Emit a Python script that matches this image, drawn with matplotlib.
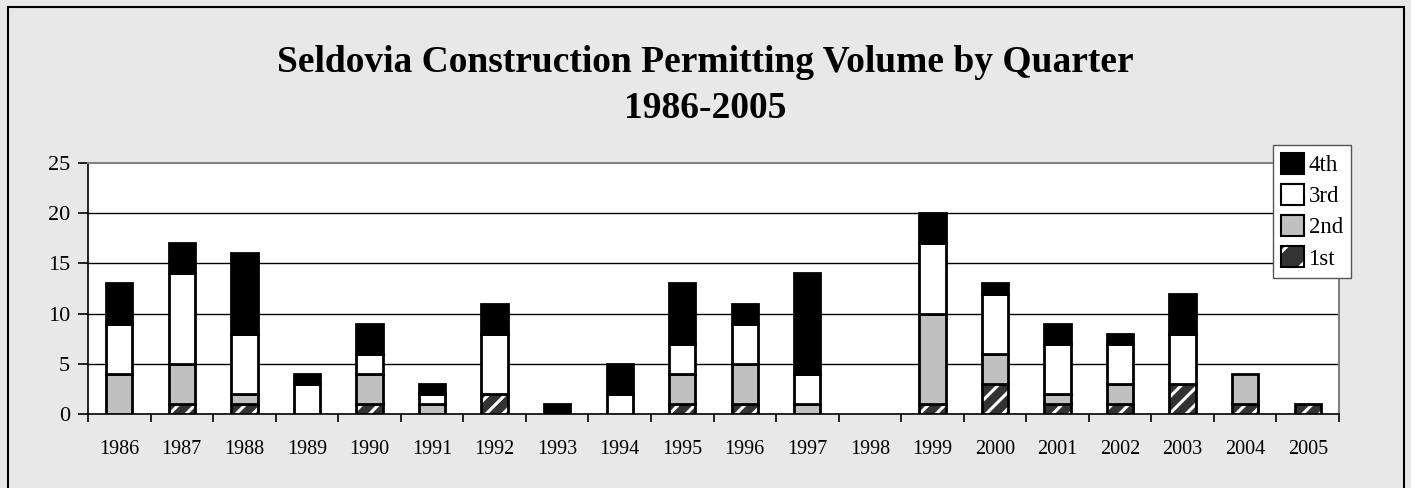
import numpy as np
import matplotlib
matplotlib.use("Agg")
import matplotlib.pyplot as plt
from matplotlib.patches import Patch, Rectangle

# Permits per quarter
years = ["1986", "1987", "1988", "1989", "1990", "1991", "1992", "1993", "1994", "1995",
         "1996", "1997", "1998", "1999", "2000", "2001", "2002", "2003", "2004", "2005"]
q1 = [0, 1, 1, 0, 1, 0, 2, 0, 0, 1, 1, 0, 0, 1, 3, 1, 1, 3, 1, 1]
q2 = [4, 4, 1, 0, 3, 1, 0, 0, 0, 3, 4, 1, 0, 9, 3, 1, 2, 0, 3, 0]
q3 = [5, 9, 6, 3, 2, 1, 6, 0, 2, 3, 4, 3, 0, 7, 6, 5, 4, 5, 0, 0]
q4 = [4, 3, 8, 1, 3, 1, 3, 1, 3, 6, 2, 10, 0, 3, 1, 2, 1, 4, 0, 0]
yticks = [0, 5, 10, 15, 20, 25]

plt.rcParams['font.family'] = ['Liberation Serif', 'DejaVu Serif']
plt.rcParams['hatch.linewidth'] = 2.2
plt.rcParams['hatch.color'] = 'white'

bg = '#e8e8e8'
fig = plt.figure(figsize=(14.11, 4.88), dpi=100, facecolor=bg)
ax = fig.add_axes([88 / 1411, 74 / 488, 1251 / 1411, 251 / 488])
ax.set_facecolor('white')

# outer chart border
fig.patches.append(Rectangle((8 / 1411, -0.05), 1396 / 1411, 1.05 - 7 / 488,
                             transform=fig.transFigure, fill=False,
                             edgecolor='black', linewidth=1.5, zorder=0))

x = np.arange(len(years))
w = 0.42
q1 = np.array(q1); q2 = np.array(q2); q3 = np.array(q3); q4 = np.array(q4)


def stack(vals, bottom, **kw):
    # skip empty segments so no stray outline is drawn at zero height
    m = vals > 0
    return ax.bar(x[m], vals[m], w, bottom=bottom[m], zorder=3, **kw)


zero = np.zeros(len(years))
stack(q1, zero, color='#333333', hatch='//', edgecolor='white', linewidth=0)
stack(q1, zero, fill=False, edgecolor='black', linewidth=2.0)
stack(q2, q1, color='#c0c0c0', edgecolor='black', linewidth=2.0)
stack(q3, q1 + q2, color='white', edgecolor='black', linewidth=2.0)
stack(q4, q1 + q2 + q3, color='black', edgecolor='black', linewidth=2.0)

ax.set_xlim(-0.5, len(years) - 0.5)
ax.set_ylim(0, 25)
ax.set_yticks(yticks)
ax.set_yticklabels([str(t) for t in yticks], fontsize=16)
ax.set_xticks(x)
ax.set_xticklabels(years, fontsize=14.5)
ax.set_xticks(np.arange(len(years) + 1) - 0.5, minor=True)
ax.tick_params(axis='x', which='major', length=0, pad=19)
ax.tick_params(axis='x', which='minor', length=6, width=1.2, direction='out')
ax.tick_params(axis='y', length=7, width=1.2, pad=6)

for t in yticks[1:-1]:
    ax.axhline(t, color='black', linewidth=1.0, zorder=1)

for s in ['top', 'right']:
    ax.spines[s].set_color('#808080')
    ax.spines[s].set_linewidth(1.5)
for s in ['left', 'bottom']:
    ax.spines[s].set_color('black')
    ax.spines[s].set_linewidth(1.2)

fig.text(0.5, 1 - 72 / 488, 'Seldovia Construction Permitting Volume by Quarter',
         ha='center', va='baseline', fontsize=27, fontweight='bold')
fig.text(0.5, 1 - 118 / 488, '1986-2005', ha='center', va='baseline',
         fontsize=27, fontweight='bold')

h4 = Patch(facecolor='black', edgecolor='black', linewidth=1.5)
h3 = Patch(facecolor='white', edgecolor='black', linewidth=1.5)
h2 = Patch(facecolor='#c0c0c0', edgecolor='black', linewidth=1.5)
h1 = (Patch(facecolor='#333333', edgecolor='white', hatch='/', linewidth=0),
      Patch(fill=False, edgecolor='black', linewidth=1.5))
leg = fig.legend([h4, h3, h2, h1], ['4th', '3rd', '2nd', '1st'],
                 loc='upper left', bbox_to_anchor=(1273 / 1411, 1 - 145 / 488),
                 bbox_transform=fig.transFigure, borderaxespad=0,
                 fontsize=16.5, handlelength=1.0, handleheight=1.0,
                 handletextpad=0.2, labelspacing=0.35, borderpad=0.35,
                 fancybox=False, framealpha=1)
leg.get_frame().set_edgecolor('#555555')
leg.get_frame().set_linewidth(1.0)

fig.savefig('out.png', dpi=100, facecolor=bg)
